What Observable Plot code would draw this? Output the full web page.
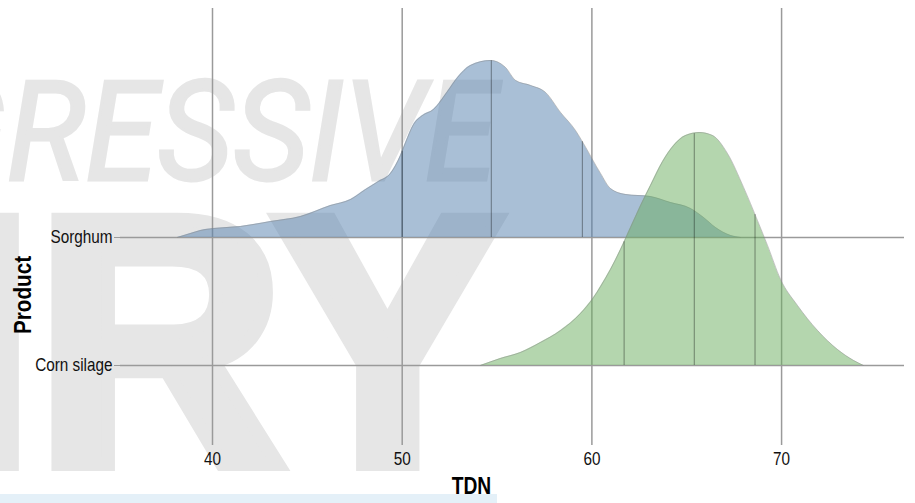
<!DOCTYPE html>
<html>
<head>
<meta charset="utf-8">
<script src="https://cdn.jsdelivr.net/npm/d3@7"></script>
<script src="https://cdn.jsdelivr.net/npm/@observablehq/plot@0.6"></script>
<style>
html, body { margin: 0; padding: 0; background: #fff; }
#wrap { position: relative; width: 915px; height: 503px; overflow: hidden; }
#wm { position: absolute; left: 0; top: 0; }
#chart { position: absolute; left: 0; top: 0; }
#band { position: absolute; left: 0; top: 494px; width: 497px; height: 9px; background: #e4f0f8; }
</style>
</head>
<body>
<div id="wrap">
  <svg id="wm" width="915" height="503">
    <text x="-80" y="180" font-family="Roboto" font-style="italic" font-size="138" fill="#e6e6e6" stroke="#e6e6e6" stroke-width="3" textLength="577" lengthAdjust="spacingAndGlyphs">GRESSIVE</text>
    <text x="-61" y="464" font-family="'Liberation Sans', Arial, sans-serif" font-weight="bold" font-size="355" fill="#e6e6e6" stroke="#e6e6e6" stroke-width="14" stroke-linejoin="miter" textLength="564" lengthAdjust="spacingAndGlyphs">IRY</text>
  </svg>
  <div id="band"></div>
  <div id="chart"></div>
</div>
<script>
// Ridge rows (bottom to top) and their baseline positions
const products = ["Corn silage", "Sorghum"];
const productBase = [1, 2];

// Sorghum density curve (TDN, scaled density)
const sorghumTDN = [38.15, 38.84, 39.37, 40.05, 41.48, 43.06, 44.64, 46.22, 47.28, 48.07, 48.75, 49.38, 49.91, 50.18, 50.60, 51.07, 51.65, 52.39, 52.92, 53.60, 54.66, 55.45, 55.98, 56.77, 57.56, 58.35, 59.14, 59.56, 60.46, 60.98, 61.78, 63.09, 64.15, 65.20, 65.89, 66.52, 67.31, 67.84];
const sorghumDensity = [0, 0.031, 0.055, 0.070, 0.086, 0.125, 0.164, 0.250, 0.297, 0.375, 0.438, 0.500, 0.641, 0.742, 0.883, 0.953, 1.000, 1.141, 1.250, 1.344, 1.383, 1.328, 1.227, 1.188, 1.133, 0.977, 0.836, 0.734, 0.500, 0.383, 0.336, 0.320, 0.273, 0.227, 0.156, 0.078, 0.016, 0];
const sorghumQuantiles = [50.0, 54.7, 59.5];

// Corn silage density curve
const cornTDN = [54.13, 55.18, 56.24, 57.29, 58.35, 59.40, 60.09, 60.46, 60.98, 61.51, 62.04, 62.57, 63.09, 63.73, 64.31, 64.94, 65.68, 66.36, 67.15, 68.00, 68.73, 69.26, 69.95, 70.84, 71.90, 72.95, 73.80, 74.32];
const cornDensity = [0, 0.055, 0.102, 0.180, 0.273, 0.406, 0.531, 0.617, 0.750, 0.906, 1.078, 1.250, 1.406, 1.594, 1.719, 1.797, 1.820, 1.797, 1.656, 1.391, 1.133, 0.938, 0.672, 0.469, 0.273, 0.125, 0.039, 0];
const cornQuantiles = [61.7, 65.4, 68.6];

const xTicks = [40, 50, 60, 70];

function rows(name, xs, ds) {
  const base = productBase[products.indexOf(name)];
  return xs.map((x, i) => ({product: name, tdn: x, base, top: base + ds[i]}));
}
function qrows(name, qs, xs, ds) {
  const base = productBase[products.indexOf(name)];
  return qs.map(q => {
    let i = d3.bisectLeft(xs, q);
    i = Math.max(1, Math.min(xs.length - 1, i));
    const t = (q - xs[i - 1]) / (xs[i] - xs[i - 1]);
    return {tdn: q, base, top: base + ds[i - 1] + t * (ds[i] - ds[i - 1])};
  });
}
const sorghum = rows("Sorghum", sorghumTDN, sorghumDensity);
const corn = rows("Corn silage", cornTDN, cornDensity);
const sorghumQ = qrows("Sorghum", sorghumQuantiles, sorghumTDN, sorghumDensity);
const cornQ = qrows("Corn silage", cornQuantiles, cornTDN, cornDensity);

const font = "'Liberation Sans', Arial, sans-serif";
const curve = "monotone-x";

const chart = Plot.plot({
  width: 915,
  height: 503,
  marginLeft: 120,
  marginRight: 11,
  marginTop: 8,
  marginBottom: 58,
  style: {background: "transparent", fontFamily: font, fontSize: "18px", color: "#111"},
  x: {domain: [35.15, 76.48]},
  y: {domain: [0.375, 3.789]},
  marks: [
    Plot.ruleX(xTicks, {stroke: "#9a9a9a", strokeWidth: 1.5}),
    Plot.ruleY(productBase, {stroke: "#9a9a9a", strokeWidth: 1.5}),
    Plot.areaY(sorghum, {x: "tdn", y1: "base", y2: "top", fill: "#537fad", fillOpacity: 0.5, curve}),
    Plot.lineY(sorghum, {x: "tdn", y: "top", stroke: "#8a8a8a", strokeWidth: 0.8, strokeOpacity: 0.6, curve}),
    Plot.ruleX(sorghumQ, {x: "tdn", y1: "base", y2: "top", stroke: "#000", strokeOpacity: 0.33, strokeWidth: 1.2}),
    Plot.areaY(corn, {x: "tdn", y1: "base", y2: "top", fill: "#69ad5d", fillOpacity: 0.5, curve}),
    Plot.lineY(corn, {x: "tdn", y: "top", stroke: "#8a8a8a", strokeWidth: 0.8, strokeOpacity: 0.6, curve}),
    Plot.ruleX(cornQ, {x: "tdn", y1: "base", y2: "top", stroke: "#000", strokeOpacity: 0.33, strokeWidth: 1.2}),
    Plot.axisX(xTicks, {tickSize: 0, tickPadding: 7, label: null, fontSize: 18}),
    Plot.axisY(productBase, {tickSize: 6, tickPadding: 2, stroke: "#9a9a9a", label: null, fontSize: 18,
      tickFormat: d => products[productBase.indexOf(d)]}),
    Plot.text(["TDN"], {frameAnchor: "bottom", textAnchor: "middle", lineAnchor: "middle", dx: -41, dy: 41, fontWeight: "bold", fontSize: 24, fill: "#000"}),
    Plot.text(["Product"], {frameAnchor: "left", textAnchor: "middle", lineAnchor: "middle", rotate: -90, dx: -97, dy: 68, fontWeight: "bold", fontSize: 23, fill: "#000"})
  ]
});
// condensed look: narrow every label horizontally around its own anchor
chart.querySelectorAll("text").forEach(t => {
  const s = t.textContent === "TDN" ? 0.8 : t.textContent === "Product" ? 0.9 : 0.85;
  const tr = t.getAttribute("transform") || "";
  t.setAttribute("transform", tr + ` scale(${s},1)`);
});
document.getElementById("chart").appendChild(chart);
</script>
</body>
</html>
